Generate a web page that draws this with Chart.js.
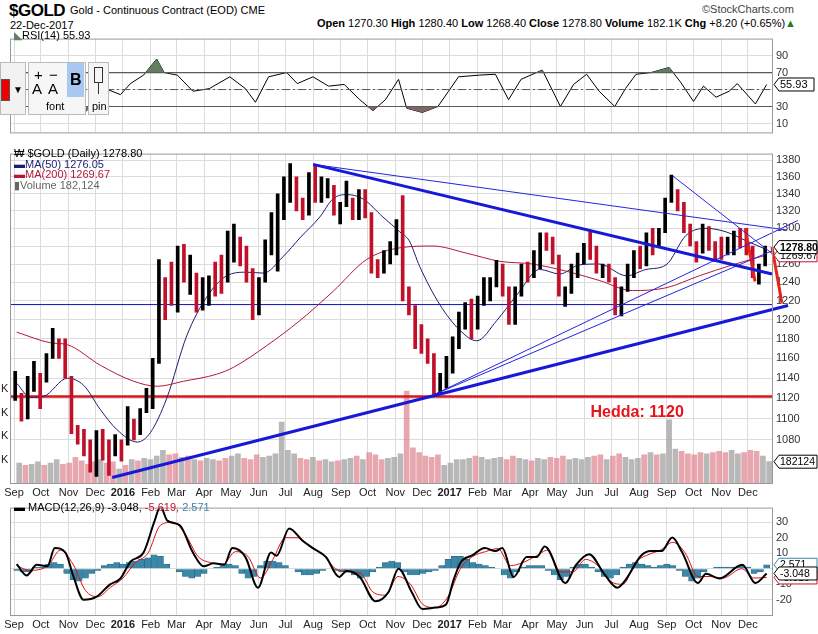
<!DOCTYPE html>
<html><head><meta charset="utf-8">
<script src="https://cdn.jsdelivr.net/npm/chart.js@4.4.0/dist/chart.umd.min.js"></script>
<style>
body{margin:0;background:#fff;width:818px;height:634px;overflow:hidden;position:relative;font-family:'Liberation Sans Narrow','Liberation Sans',Arial,sans-serif;color:#000;}
canvas{position:absolute;left:0;}
.t{position:absolute;white-space:nowrap;line-height:1;}
</style></head><body>
<div class="t" style="left:9px;top:2px;font-size:17px;font-weight:bold;letter-spacing:-0.5px;">$GOLD</div>
<div class="t" style="left:70px;top:5px;font-size:11px;">Gold - Continuous Contract (EOD) CME</div>
<div class="t" style="left:10px;top:20px;font-size:11px;">22-Dec-2017</div>
<div class="t" style="left:702px;top:4px;font-size:11px;color:#444;">©StockCharts.com</div>
<div class="t" style="right:22px;top:18px;font-size:11px;"><b>Open</b> 1270.30 <b>High</b> 1280.40 <b>Low</b> 1268.40 <b>Close</b> 1278.80 <b>Volume</b> 182.1K <b>Chg</b> +8.20 (+0.65%)<span style="color:#2a7a2a">▲</span></div>

<canvas id="rsi" width="818" height="115" style="top:28px"></canvas>
<canvas id="main" width="818" height="358" style="top:143px"></canvas>
<canvas id="macd" width="818" height="136" style="top:497px"></canvas>

<div class="t" style="left:14px;top:30px;font-size:11px;"><span style="color:#5f7f5f">◣</span>RSI(14) 55.93</div>
<div class="t" style="left:14px;top:148px;font-size:11px;line-height:10.5px;">
<div>₩ $GOLD (Daily) 1278.80</div>
<div style="color:#1c1c70">▬MA(50) 1276.05</div>
<div style="color:#b4173a">▬MA(200) 1269.67</div>
<div style="color:#666">▮Volume 182,124</div></div>
<div class="t" style="left:14px;top:502px;font-size:11px;">▬ MACD(12,26,9) -3.048, <span style="color:#c8102e">-5.619,</span> <span style="color:#3a87a8">2.571</span></div>

<div style="position:absolute;left:0;top:62px;width:24px;height:51px;background:#f2f2f2;border:1px solid #bbb;">
 <div style="position:absolute;left:0;top:16px;width:7px;height:20px;background:#e00;border:1px solid #555;"></div>
 <div class="t" style="left:12px;top:22px;font-size:10px;">▼</div></div>
<div style="position:absolute;left:28px;top:62px;width:56px;height:51px;background:#f6f6f6;border:1px solid #bbb;">
 <div class="t" style="left:5px;top:4px;font-size:15px;">+</div><div class="t" style="left:20px;top:4px;font-size:15px;">−</div>
 <div class="t" style="left:3px;top:18px;font-size:15px;">A</div><div class="t" style="left:19px;top:18px;font-size:15px;">A</div>
 <div style="position:absolute;left:38px;top:0;width:17px;height:34px;background:#a8c8f0;"></div>
 <div class="t" style="left:41px;top:9px;font-size:16px;font-weight:bold;">B</div>
 <div class="t" style="left:17px;top:38px;font-size:11px;">font</div></div>
<div style="position:absolute;left:88px;top:62px;width:19px;height:51px;background:#f6f6f6;border:1px solid #bbb;">
 <div style="position:absolute;left:5px;top:4px;width:7px;height:14px;border:1px solid #333;"></div>
 <div style="position:absolute;left:9px;top:19px;width:1px;height:12px;background:#333;"></div>
 <div class="t" style="left:3px;top:38px;font-size:11px;">pin</div></div>

<script>
// ---------- DATA ----------
const monthDays   = [0,30,61,91,122,153,182,213,243,274,304,335,366,396,427,457,488,519,547,578,608,639,669,700,731,761,792,822];
const monthLabels = ['Sep','Oct','Nov','Dec','2016','Feb','Mar','Apr','May','Jun','Jul','Aug','Sep','Oct','Nov','Dec','2017','Feb','Mar','Apr','May','Jun','Jul','Aug','Sep','Oct','Nov','Dec'];
const priceTicks = [1080,1100,1120,1140,1160,1180,1200,1220,1240,1260,1280,1300,1320,1340,1360,1380];
const rsiTicks = [10,30,50,70,90];
const macdTicks = [-20,-10,0,10,20,30];

// weekly bars, week i ends on Friday (day 3+7i counted from 1-Sep-2015)
const weekLow  = [1118,1098,1100,1127,1110,1136,1160,1160,1140,1086,1076,1065,1050,1046,1061,1047,1065,1060,1075,1080,1085,1106,1110,1155,1200,1215,1208,1240,1227,1208,1210,1215,1225,1228,1240,1262,1258,1240,1200,1205,1240,1270,1252,1310,1330,1320,1310,1315,1330,1330,1335,1315,1305,1325,1310,1310,1312,1250,1245,1250,1260,1270,1220,1205,1170,1165,1155,1124,1125,1130,1145,1170,1190,1180,1190,1215,1220,1235,1225,1195,1195,1225,1240,1245,1255,1275,1260,1225,1214,1228,1245,1260,1265,1250,1245,1240,1205,1204,1230,1245,1255,1258,1270,1280,1295,1330,1320,1295,1280,1262,1272,1275,1263,1265,1270,1270,1278,1270,1245,1238,1258];
const weekHigh = [1147,1125,1142,1157,1145,1165,1191,1180,1180,1142,1094,1090,1080,1089,1090,1080,1085,1080,1112,1100,1110,1130,1160,1265,1245,1262,1280,1282,1270,1250,1245,1247,1262,1270,1297,1305,1290,1280,1255,1245,1287,1318,1340,1360,1376,1360,1335,1365,1375,1360,1358,1350,1330,1355,1335,1345,1345,1318,1265,1275,1285,1310,1338,1235,1215,1195,1180,1165,1145,1162,1182,1208,1218,1222,1225,1245,1245,1264,1260,1235,1235,1260,1262,1275,1295,1295,1290,1270,1235,1260,1272,1283,1296,1280,1260,1260,1245,1235,1260,1275,1280,1295,1300,1300,1335,1362,1345,1330,1305,1285,1305,1302,1285,1290,1290,1297,1300,1300,1280,1260,1280];
const weekClose= [1122,1103,1138,1145,1137,1157,1182,1163,1142,1088,1081,1076,1064,1084,1075,1066,1076,1061,1098,1090,1097,1118,1158,1239,1231,1221,1271,1249,1254,1217,1221,1241,1235,1233,1290,1290,1273,1252,1216,1243,1275,1295,1320,1345,1366,1327,1320,1357,1337,1337,1346,1323,1328,1330,1312,1339,1317,1257,1253,1268,1278,1306,1225,1210,1180,1177,1160,1133,1133,1152,1173,1196,1205,1191,1220,1234,1238,1258,1234,1203,1230,1250,1249,1256,1289,1288,1268,1228,1228,1256,1268,1280,1271,1256,1257,1242,1212,1229,1254,1269,1264,1290,1286,1297,1330,1351,1325,1300,1284,1275,1302,1280,1272,1269,1275,1294,1288,1280,1248,1257,1279];
const weekVolK = [170,150,160,180,150,170,200,160,170,220,190,160,180,200,170,180,120,150,200,190,210,200,230,280,240,250,220,230,200,190,210,200,190,210,230,250,210,200,240,220,230,250,520,280,250,210,200,220,190,200,180,190,200,210,230,200,260,240,200,210,220,250,785,300,260,230,220,240,150,170,200,200,210,230,220,200,210,220,200,230,210,200,190,210,200,220,210,230,200,210,200,220,230,240,200,230,250,220,200,210,240,260,240,250,540,290,270,250,240,260,250,260,270,260,280,250,260,280,270,230,182];

const ma50Week = [0,2.2,4.3,8.1,10.7,13.4,16,19.3,21.4,24,27.2,30.4,33.6,36.8,39.5,42.6,45.3,48.5,50.6,52.8,55.4,58.6,61.3,62.8,64.5,67.7,70.9,73.6,76.8,80,83.7,86.9,90,93.2,97.6,100.7,103.9,107.1,110.3,113.5,116.7,120];
const ma50Val  = [1135,1121,1122,1140,1133,1109,1090,1078,1087,1120,1183,1224,1247,1251,1250,1268,1289,1313,1334,1339,1334,1313,1296,1286,1257,1216,1189,1178,1199,1226,1254,1249,1259,1260,1247,1254,1259,1292,1300,1296,1286,1276];
const ma200Week= [0,5.4,8.1,13.4,18.7,22.5,26.7,32,34.7,40,45.3,50.6,56,61.3,66.6,72,77.3,82.5,88,93.2,98.5,103.9,109.2,114.5,120];
const ma200Val = [1187,1176,1174,1153,1137,1132,1137,1144,1151,1173,1199,1230,1265,1278,1280,1272,1263,1260,1252,1242,1231,1234,1247,1259,1270];

const rsiWeek = [10.7,14.9,16.6,18.2,20.3,22.4,23.6,25.7,28.2,30.8,34.1,36.6,38.2,40.3,43.2,44.9,47.4,49.9,52.4,54.9,57,59,61.1,62.4,64.9,67.4,69.1,70.7,74.1,76.6,78.7,80.7,84.1,87,89.1,91.2,93.2,95.7,97.4,99.1,101.5,104.4,106.2,108.3,109.9,111.9,114,115.3,118.2,120];
const rsiVal  = [22,49,44,57,67,86,70,67,48,51,65,51,35,65,70,57,65,54,56,38,25,38,62,28,23,30,48,65,67,68,38,62,73,30,56,68,48,30,51,68,70,76,59,36,54,41,48,57,33,55.93];

const macdWeek = [0,1.6,3.2,4.9,6.1,7.8,9.1,10.7,12.8,14.9,16.6,18.2,20.3,22,23,24.1,26.1,28.2,29.9,31.5,33.2,34.5,36.6,38.6,40.7,41.6,43.6,45.7,47.4,49.5,51.6,52.8,54.9,57.4,59.5,61.1,63.2,64.9,67,68.7,69.9,71.1,72.8,74.9,76.6,77.7,79.5,81.6,83.2,84.5,87.8,89.5,91.6,94,96.1,97.4,99.9,101.5,103.2,104.9,106.5,109,110.3,112.4,116.1,118.2,120];
const macdVal  = [3,-4.3,2.5,1.6,13.3,10.4,-5.3,-20,-18,-10.2,-6.3,4.5,10.4,30,40,31,28,10.4,1.6,3.5,2.5,13.3,7.5,-12.2,10.4,8.4,26,18.2,13.3,7.5,-5.3,-1.4,-5.3,-21,-15,0,-15,-25.9,-25,-23,-7.3,4.5,8.4,13.3,11.4,13.3,-5.3,7.5,7.5,14.3,-9.2,2.5,9.4,-3.3,-12.2,-7.3,8.4,11.4,11.4,20.2,10.4,-9.2,-3.3,-6.3,2.5,-9.2,-3.048];
const sigWeek = [0,2,5,7,9,11,13,15,17,19,21,23,25,27,29,31,33,35,37,39,41,43,45,47,49,51,53,55,57,59,61,63,65,67,69,71,73,75,77,79,81,83,85,87,89,91,93,95,97,99,101,103,105,107,109,111,113,116,118,120];
const sigVal  = [2,-1,2,12,3,-14,-18,-12,-6,4,10,28,30,22,8,4,3,11,8,-6,6,20,20,14,9,0,-2,-3,-15,-17,-5,-10,-23,-25,-18,0,8,11,13,2,4,8,12,-2,-2,6,2,-8,-10,4,9,12,17,10,-5,-5,-6,0,-6,-5.619];
const histVal = [-1,-2,-2,1,1,3,4,3,-3,-7,-8,-6,-3,-1,2,3,4,3,4,5,6,7,9,8,3,0,-2,-5,-6,-5,-3,0,1,2,3,2,-3,-6,-5,2,5,5,4,2,0,-2,-4,-4,-3,-1,0,-1,-2,-2,-4,-6,-5,-2,1,4,5,4,-2,-4,-4,-3,-2,-1,2,6,8,8,6,4,3,2,1,0,-4,-6,-2,1,2,2,2,-1,-4,-7,-5,1,3,3,1,-2,-5,-6,-4,1,3,4,3,2,1,2,3,2,-1,-5,-8,-6,-2,0,1,1,1,1,2,1,-3,-2,2.571];

// trendlines: [startDay, startPrice, endDay, endPrice]
const trendThick = [[335,1375,849,1249],[110,1045,867,1215]];
const trendThin  = [[335,1375,866,1298],[471,1124,878,1309],[471,1124,850,1275],[738,1361,850,1271]];
const trendRed   = [[819,1300,830,1241],[849,1279,860,1218]];
const hLineBlue = 1216, hLineRed = 1122;
const hedda = {day:698, price:1106, text:'Hedda: 1120'};

// ---------- HELPERS ----------
const dayOf = w => 3 + 7*w;
const XMIN = -4.5, XMAX = 849;
const F = "'Liberation Sans Narrow','Liberation Sans',Arial,sans-serif";
Chart.defaults.font.family = F;
Chart.defaults.font.size = 11;
Chart.defaults.color = '#222';

function xScale(showLabels){
  return {type:'linear',min:XMIN,max:XMAX,offset:false,
    afterBuildTicks:s=>{s.ticks=monthDays.map(v=>({value:v}));},
    afterFit:s=>{s.height=showLabels?18:0;},
    grid:{color:'#dcdcdc',drawTicks:false,offset:false},
    border:{display:false},
    ticks:{display:showLabels,autoSkip:false,maxRotation:0,padding:3,
      callback:(v,i)=>monthLabels[i],
      font:c=>({size:11,weight:(monthLabels[c.index]||'').length===4?'bold':'normal'})}};
}
function yRight(extra){
  return Object.assign({position:'right',afterFit:s=>{s.width=46;},
    grid:{color:'#dcdcdc',drawTicks:false},border:{display:false},
    ticks:{padding:4,color:'#333'}},extra);
}
const frame = {id:'frame',afterDraw(c){const a=c.chartArea,x=c.ctx;x.save();x.strokeStyle='#999';x.lineWidth=1;x.strokeRect(a.left+0.5,a.top+0.5,a.right-a.left,a.bottom-a.top);x.restore();}};
function tagPlugin(tags){
  return {id:'tags'+Math.floor(Math.random()*1e6),afterDraw(c){
    const x=c.ctx,a=c.chartArea;x.save();
    tags.forEach(t=>{
      const y=c.scales[t.axis].getPixelForValue(t.value);
      const L=a.right+2,W=t.w||43,H=13;
      x.beginPath();x.moveTo(L,y);x.lineTo(L+5,y-H/2);x.lineTo(L+W,y-H/2);x.lineTo(L+W,y+H/2);x.lineTo(L+5,y+H/2);x.closePath();
      x.fillStyle='#fff';x.fill();x.strokeStyle=t.stroke||'#000';x.lineWidth=1;x.stroke();
      x.fillStyle=t.color||'#000';x.font=(t.bold?'bold ':'')+(t.size||11)+'px '+F;x.textBaseline='middle';x.textAlign='left';
      x.fillText(t.text,L+6,y+0.5);
    });
    if(this.extra) this.extra(c);
    x.restore();}};
}
const base = {responsive:false,animation:false,devicePixelRatio:1,
  plugins:{legend:{display:false},tooltip:{enabled:false}},
  layout:{padding:{left:10,right:0,top:0,bottom:0}}};

// ---------- RSI ----------
const rsiPts = rsiWeek.map((w,i)=>({x:dayOf(w),y:rsiVal[i]}));
new Chart(document.getElementById('rsi'),{type:'line',
  data:{datasets:[
    {data:rsiPts,borderWidth:0,pointRadius:0,fill:{target:{value:70},above:'#5f7f5f',below:'rgba(0,0,0,0)'}},
    {data:rsiPts,borderWidth:0,pointRadius:0,fill:{target:{value:30},above:'rgba(0,0,0,0)',below:'#806666'}},
    {data:[{x:XMIN,y:70},{x:XMAX,y:70}],borderColor:'#555',borderWidth:1.2,pointRadius:0},
    {data:[{x:XMIN,y:30},{x:XMAX,y:30}],borderColor:'#555',borderWidth:1.2,pointRadius:0},
    {data:[{x:XMIN,y:50},{x:XMAX,y:50}],borderColor:'#555',borderWidth:1,borderDash:[8,3,2,3],pointRadius:0},
    {data:rsiPts,borderColor:'#000',borderWidth:1,pointRadius:0,tension:0}
  ]},
  options:Object.assign({},base,{scales:{x:xScale(false),
    y:yRight({min:-0.5,max:110,afterBuildTicks:s=>{s.ticks=rsiTicks.map(v=>({value:v}));},
      ticks:{padding:4,color:'#333',callback:v=>v===50?'':String(v)}})}}),
  plugins:[frame,tagPlugin([{axis:'y',value:55.93,text:'55.93',w:40}])]});

// ---------- MAIN ----------
const bars = weekLow.map((l,i)=>({x:dayOf(i),y:[l,weekHigh[i]]}));
const barColors = weekClose.map((c,i)=> i>0 && c<weekClose[i-1] ? '#c0102a' : '#000');
const vols = weekVolK.map((v,i)=>({x:dayOf(i),y:v*1000}));
const volColors = weekClose.map((c,i)=> i>0 && c<weekClose[i-1] ? 'rgba(222,130,140,0.7)' : 'rgba(160,160,160,0.75)');
const seg = (s,col,w)=>({type:'line',data:[{x:s[0],y:s[1]},{x:s[2],y:s[3]}],borderColor:col,borderWidth:w,pointRadius:0,clip:false,order:0});
const mainDs = [
  {type:'bar',data:vols,backgroundColor:volColors,barThickness:5,yAxisID:'yv',order:10},
  {type:'line',data:[{x:XMIN,y:hLineBlue},{x:XMAX,y:hLineBlue}],borderColor:'#1010c0',borderWidth:1,pointRadius:0,order:5},
  {type:'line',data:[{x:XMIN,y:hLineRed},{x:XMAX,y:hLineRed}],borderColor:'#d8141c',borderWidth:2.5,pointRadius:0,order:5},
  {type:'line',data:ma200Week.map((w,i)=>({x:dayOf(w),y:ma200Val[i]})),borderColor:'#b4173a',borderWidth:1,pointRadius:0,tension:0.4,cubicInterpolationMode:'monotone',order:3},
  {type:'line',data:ma50Week.map((w,i)=>({x:dayOf(w),y:ma50Val[i]})),borderColor:'#1c1c70',borderWidth:1,pointRadius:0,tension:0.4,cubicInterpolationMode:'monotone',order:3},
  {type:'bar',data:bars,backgroundColor:barColors,barThickness:3,order:2},
];
trendThick.forEach(s=>mainDs.push(seg(s,'#1818d8',3)));
trendThin.forEach(s=>mainDs.push(seg(s,'#2525e0',1)));
trendRed.forEach(s=>mainDs.push(seg(s,'#e8231a',3)));
const mainTags = tagPlugin([
  {axis:'y',value:1269.67,text:'1269.67',stroke:'#c8102e',size:10.5},
  {axis:'y',value:1278.8,text:'1278.80',bold:true,size:10.5},
  {axis:'yv',value:182124,text:'182124',size:10.5}]);
mainTags.extra = c=>{
  const x=c.ctx;x.fillStyle='#e8141c';x.font='bold 16px '+F;x.textAlign='center';x.textBaseline='middle';
  x.fillText(hedda.text,c.scales.x.getPixelForValue(hedda.day),c.scales.y.getPixelForValue(hedda.price));
  x.fillStyle='#222';x.font='11px '+F;x.textAlign='left';
  [200000,400000,600000,800000].forEach(v=>x.fillText('K',1,c.scales.yv.getPixelForValue(v)));
};
new Chart(document.getElementById('main'),{type:'bar',data:{datasets:mainDs},
  options:Object.assign({},base,{scales:{x:xScale(true),
    y:yRight({type:'logarithmic',min:1040,max:1388,afterBuildTicks:s=>{s.ticks=priceTicks.map(v=>({value:v}));},
      ticks:{padding:4,color:'#333',autoSkip:false,callback:v=>String(v)}}),
    yv:{type:'linear',min:0,max:2815000,display:false}}}),
  plugins:[frame,mainTags]});

// ---------- MACD ----------
new Chart(document.getElementById('macd'),{type:'bar',
  data:{datasets:[
    {type:'bar',data:histVal.map((v,i)=>({x:dayOf(i),y:v})),backgroundColor:'#3a87a8',borderColor:'#1f5f78',borderWidth:0.5,barThickness:6,order:5},
    {type:'line',data:sigWeek.map((w,i)=>({x:dayOf(w),y:sigVal[i]})),borderColor:'#e01010',borderWidth:1,pointRadius:0,tension:0.4,cubicInterpolationMode:'monotone',order:2},
    {type:'line',data:macdWeek.map((w,i)=>({x:dayOf(w),y:macdVal[i]})),borderColor:'#000',borderWidth:2,pointRadius:0,tension:0.4,cubicInterpolationMode:'monotone',order:1}
  ]},
  options:Object.assign({},base,{scales:{x:xScale(true),
    y:yRight({min:-29.8,max:39.4,afterBuildTicks:s=>{s.ticks=macdTicks.map(v=>({value:v}));},
      ticks:{padding:4,color:'#333',callback:v=>v===0?'':String(v)}})}}),
  plugins:[frame,tagPlugin([{axis:'y',value:-5.619,text:'-5.619',stroke:'#c8102e',size:10.5},{axis:'y',value:2.571,text:'2.571',stroke:'#3a87a8',size:10.5},{axis:'y',value:-3.048,text:'-3.048',size:10.5}])]});
</script>
</body></html>
